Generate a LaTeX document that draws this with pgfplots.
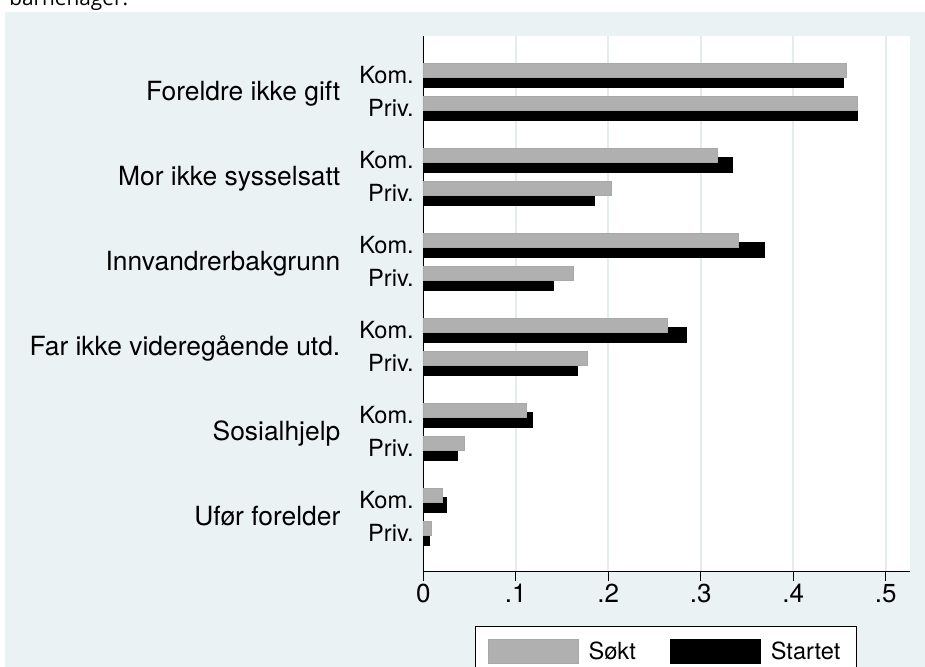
\documentclass[border=0pt]{standalone}
\usepackage{fontspec}
\setmainfont{TeX Gyre Heros}
\newfontfamily\capfont{Open Sans}
\usepackage{pgfplots}
\pgfplotsset{compat=1.18}
\definecolor{graphbg}{HTML}{EAF2F3}
\definecolor{gridc}{HTML}{E4ECEE}
\definecolor{sokt}{HTML}{B0B0B0}
\definecolor{soktedge}{HTML}{A8A8A8}

\begin{document}
\begin{tikzpicture}
\useasboundingbox (0pt,0pt) rectangle (462.5pt,-333.5pt);
\fill[graphbg] (2.5pt,-6pt) rectangle (462.5pt,-333.5pt);
\node[anchor=base west, inner sep=0pt, font=\capfont\fontsize{10.4pt}{12pt}\selectfont] at (4.5pt,-3pt) {barnehager.};

\begin{axis}[
  at={(211.65pt,-285.85pt)}, anchor=south west,
  width=243.1pt, height=267.85pt, scale only axis,
  xmin=0, xmax=0.5256, ymin=0, ymax=535.7,
  axis x line*=bottom, axis y line*=left,
  axis line style={-, line width=0.6pt, black},
  axis background/.style={fill=white},
  xbar, bar shift=0pt, bar width=14.5,
  xtick={0,0.1,0.2,0.3,0.4,0.5},
  xticklabels={0,.1,.2,.3,.4,.5},
  xmajorgrids, grid style={gridc, line width=0.9pt},
  tick align=outside, major tick length=4.75pt,
  x tick style={black, line width=0.6pt},
  ytick={38.45,71.45,123.45,156.45,208.45,241.45,293.45,326.45,378.45,411.45,463.45,496.45},
  yticklabels={Priv.,Kom.,Priv.,Kom.,Priv.,Kom.,Priv.,Kom.,Priv.,Kom.,Priv.,Kom.},
  y tick style={draw=none},
  x tick label style={font=\fontsize{13pt}{15pt}\selectfont, yshift=2pt},
  y tick label style={font=\fontsize{11.8pt}{13pt}\selectfont, xshift=3.5pt},
  clip=false,
  legend columns=2,
  legend image code/.code={\draw[#1, line width=0.5pt] (0pt,-6pt) rectangle (45pt,6pt);},
  legend style={at={(0.10634,-0.10136)}, anchor=north west,
    draw=black, line width=0.6pt, fill=white,
    font=\fontsize{11.8pt}{14pt}\selectfont,
    inner xsep=6pt, inner ysep=5.5pt,
    /tikz/every odd column/.append style={column sep=3pt},
    /tikz/every even column/.append style={column sep=15pt}},
]
\addlegendimage{fill=sokt, draw=soktedge}
\addlegendentry{Søkt}
\addlegendimage{fill=black, draw=black}
\addlegendentry{Startet}

% Startet (black, drawn first, lower bar of each pair)
\addplot[fill=black, draw=black, line width=0.4pt, forget plot] coordinates {
  (0.007,33.7) (0.025,66.7)
  (0.037,118.7) (0.118,151.7)
  (0.167,203.7) (0.284,236.7)
  (0.141,288.7) (0.369,321.7)
  (0.185,373.7) (0.334,406.7)
  (0.469,458.7) (0.454,491.7)
};
% Søkt (grey, on top)
\addplot[fill=sokt, draw=soktedge, line width=0.4pt, forget plot] coordinates {
  (0.009,43.2) (0.021,76.2)
  (0.044,128.2) (0.111,161.2)
  (0.177,213.2) (0.264,246.2)
  (0.162,298.2) (0.341,331.2)
  (0.203,383.2) (0.318,416.2)
  (0.469,468.2) (0.457,501.2)
};

\tikzset{grp/.style={anchor=base east, inner sep=0pt, xshift=-41.3pt, yshift=-4.5pt,
  font=\fontsize{13.2pt}{15pt}\selectfont}}
\node[grp] at (axis cs:0,479.95) {Foreldre ikke gift};
\node[grp] at (axis cs:0,394.95) {Mor ikke sysselsatt};
\node[grp] at (axis cs:0,309.95) {Innvandrerbakgrunn};
\node[grp] at (axis cs:0,224.95) {Far ikke videregående utd.};
\node[grp] at (axis cs:0,139.95) {Sosialhjelp};
\node[grp] at (axis cs:0,54.95) {Ufør forelder};
\end{axis}
\end{tikzpicture}
\end{document}
